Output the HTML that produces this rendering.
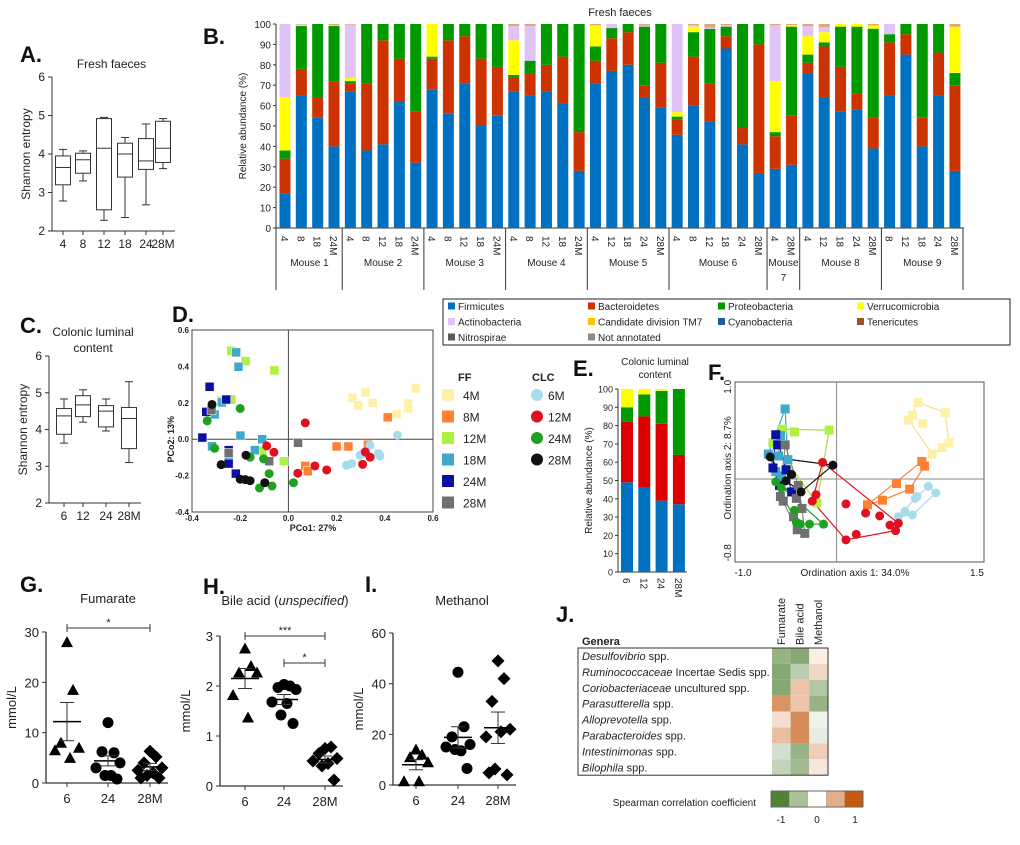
<!DOCTYPE html>
<html><head><meta charset="utf-8"><style>
body{margin:0;background:#fff}
svg{font-family:"Liberation Sans",sans-serif;display:block}
</style></head><body>
<svg id="s" width="1020" height="845" viewBox="0 0 1020 845" xmlns="http://www.w3.org/2000/svg">
<g font-weight="bold" font-size="22" fill="#111">
<text x="20" y="62">A.</text>
<text x="203" y="44">B.</text>
<text x="20" y="333">C.</text>
<text x="172" y="322">D.</text>
<text x="573" y="376">E.</text>
<text x="708" y="380">F.</text>
<text x="20" y="592">G.</text>
<text x="203" y="594">H.</text>
<text x="365" y="592">I.</text>
<text x="556" y="622">J.</text>
</g>
</svg>
<script>
// ---------- data ----------
const boxA_cats=["4","8","12","18","24","28M"];
const boxA_vals=[[2.78,3.2,3.65,3.95,4.12],[3.3,3.5,3.85,4.02,4.08],[2.28,2.55,4.15,4.92,4.95],[2.35,3.4,4.0,4.28,4.43],[2.68,3.6,3.82,4.4,4.78],[3.62,3.78,4.15,4.85,4.92]];
const boxC_cats=["6","12","24","28M"];
const boxC_vals=[[3.63,3.87,4.37,4.57,4.83],[4.2,4.35,4.67,4.92,5.08],[3.96,4.07,4.5,4.65,4.83],[3.1,3.48,4.3,4.6,5.3]];
const b_mice=["Mouse 1","Mouse 2","Mouse 3","Mouse 4","Mouse 5","Mouse 6","Mouse 7","Mouse 8","Mouse 9"];
const b_samples=[["4","8","18","24M"],["4","8","12","18","24M"],["4","8","12","18","24M"],["4","8","12","18","24M"],["4","12","18","24","28M"],["4","8","12","18","24","28M"],["4","28M"],["4","12","18","24","28M"],["8","12","18","24","28M"]];
const b_firm=[17,65,54,40,67,38,41,62,32,68,56,71,50,55,67,65,67,61,28,71,77,80,64,59,45.7,60,52,88,41,27,29,31,76,64,57,58,39,65,85,40,65,28];
const b_bact=[17,13,10,32,4,33,51,21,25,15,36,23,33,24,7,11,13,23,19,11,16,16,6,22,7.3,24,19,6,8,63,16,24,5,25,22,8,15,26,10,14,21,42];
const b_prot=[4,21,36,27,1,29,8,17,43,1,8,6,17,21,1,6,20,16,53,7,5,4,28.7,19,1.6,12,26.6,4.7,51,10,2,43.7,4,2,19.7,32.7,43.7,4,5,46,14,6];
const b_verr=[26,0.5,0,0,1.5,0,0,0,0,16,0,0,0,0,17,0,0,0,0,10,0,0,0,0,2.2,2.7,0,0,0,0,25,0.8,9,5,1.3,1.3,1.6,0,0,0,0,22.7];
const b_acti=[36,0.3,0,0.5,26.2,0,0,0,0,0,0,0,0,0,7,17,0,0,0,0.5,2,0,0.5,0,43.2,0.8,0.5,0.8,0,0,27.5,0,5,2.5,0,0,0,5,0,0,0,0];
const e_cats=["6","12","24","28M"];
const e_firm=[49,46,39,37], e_bact=[33,39,42,27], e_prot=[8,12,18,36], e_verr=[10,3,1,0];
const d_groups=["FF 4M","FF 8M","FF 12M","FF 18M","FF 24M","FF 28M","CLC 6M","CLC 12M","CLC 24M","CLC 28M"];
const d_x=[[0.266,0.32,0.29,0.35,0.45,0.497,0.498,0.528],[0.412,0.2,0.249,0.33,0.07,0.08],[-0.237,-0.178,-0.058,-0.279,-0.237,-0.109,-0.019],[-0.217,-0.207,-0.276,-0.306,-0.199,-0.109,-0.139,-0.317,-0.248],[-0.327,-0.258,-0.341,-0.357,-0.248,-0.248,-0.218],[-0.319,-0.248,-0.08,0.04],[0.452,0.241,0.262,0.297,0.308,0.338,0.373,0.38],[0.07,-0.09,-0.06,0.11,0.039,0.159,0.319,0.339,0.308],[-0.2,-0.337,-0.306,-0.159,-0.103,-0.08,-0.12,-0.068,0.021],[-0.317,-0.176,-0.279,-0.2,-0.179,-0.159,-0.098]];
const d_y=[[0.228,0.257,0.187,0.2,0.138,0.196,0.169,0.279],[0.12,-0.04,-0.04,-0.03,-0.147,-0.176],[0.486,0.429,0.378,0.211,0.218,-0.064,-0.121],[0.477,0.398,0.202,0.136,0.02,0,-0.06,-0.039,-0.112],[0.288,0.218,0.15,0.009,-0.06,-0.134,-0.189],[0.16,-0.075,-0.121,-0.02],[0.022,-0.143,-0.134,-0.088,-0.079,-0.033,-0.079,-0.092],[0.09,-0.037,-0.072,-0.147,-0.187,-0.169,-0.07,-0.099,-0.138],[0.169,0.101,-0.05,-0.099,-0.108,-0.189,-0.268,-0.257,-0.239],[0.191,-0.088,-0.14,-0.22,-0.222,-0.228,-0.239]];
const f_x=[[0.87,1.16,1.2,1.13,1.02,0.81,0.77,0.92],[0.91,0.94,0.78,0.49,0.33,0.64],[-0.58,-0.45,-0.08,-0.21,-0.68],[-0.55,-0.6,-0.73,-0.62,-0.52,-0.65,-0.59],[-0.65,-0.63,-0.68,-0.61,-0.48,-0.54],[-0.55,-0.41,-0.43,-0.6,-0.57,-0.46,-0.42,-0.34,-0.37],[0.98,1.06,0.81,0.73,0.66,0.86,0.84],[-0.15,-0.22,-0.26,0.1,0.21,0.63,0.66,0.57,0.46,0.31,0.1],[-0.65,-0.59,-0.45,-0.43,-0.29,-0.14,-0.39],[-0.71,-0.04,-0.38,-0.48,-0.54]];
const f_y=[[0.83,0.72,0.39,0.34,0.27,0.69,0.64,0.6],[0.19,0.14,-0.11,-0.23,-0.28,-0.05],[0.54,0.51,0.53,-0.26,0.39],[0.76,0.47,0.27,0.25,0.21,0.08,0.03],[0.48,0.37,0.12,-0.07,-0.14,0.1],[0.37,-0.07,-0.21,-0.19,-0.24,-0.41,-0.55,-0.59,-0.32],[-0.08,-0.15,-0.39,-0.35,-0.41,-0.19,-0.21],[0.18,-0.17,-0.24,-0.66,-0.6,-0.56,-0.48,-0.5,-0.4,-0.37,-0.27],[-0.03,-0.1,-0.34,-0.47,-0.49,-0.49,-0.49],[0.24,0.15,-0.14,0.05,-0.02]];
const sc_cats=["6","24","28M"];
const g_vals=[[28,18.5,8,7,6.5,5],[12,6,6.2,4,3,1.5,1.5,0.8],[6.3,5.2,4,3,2.5,2,1.5,1,1]];
const g_mean=[12.2,4.4,3.2], g_sem=[3.8,1.0,0.7];
const h_vals=[[2.75,2.4,2.27,2.27,1.82,1.37],[2.03,2.0,1.97,1.93,1.68,1.65,1.42,1.25],[0.75,0.78,0.65,0.55,0.5,0.45,0.4,0.12]];
const h_mean=[2.15,1.73,0.53], h_sem=[0.2,0.1,0.07];
const i_vals=[[14,12,11,9,1.5,1.5],[44.5,23,19,16,15,13.5,14,6.5],[49,42,33,22,19,21,6.3,4,4.8]];
const i_mean=[8,18.8,22.6], i_sem=[2,4.2,6.2];
const j_genera=[["Desulfovibrio"," spp."],["Ruminococcaceae"," Incertae Sedis spp."],["Coriobacteriaceae"," uncultured spp."],["Parasutterella"," spp."],["Alloprevotella"," spp."],["Parabacteroides"," spp."],["Intestinimonas"," spp."],["Bilophila"," spp."]];
const j_cols=["Fumarate","Bile acid","Methanol"];
const j_vals=[[-0.6,-0.7,0.1],[-0.7,-0.4,0.25],[-0.7,0.35,-0.45],[0.65,0.35,-0.6],[0.2,0.7,-0.1],[0.4,0.7,-0.15],[-0.25,-0.6,0.3],[-0.35,-0.55,0.15]];
const j_scale=[-1,-0.5,0,0.5,1];

// ---------- helpers ----------
const S=document.getElementById('s'),NS='http://www.w3.org/2000/svg';
function mk(t,a,p,txt){const e=document.createElementNS(NS,t);for(const k in a)e.setAttribute(k,a[k]);if(txt!==undefined)e.textContent=txt;(p||S).appendChild(e);return e;}
function grp(name){const g=mk('g',{});return g;}
function txt(p,x,y,s,o,name){const e=mk('text',Object.assign({x:x,y:y,'font-size':11,fill:'#222'},o||{}),p,s);return e;}
function ln(p,x1,y1,x2,y2,st,w){return mk('line',{x1:x1,y1:y1,x2:x2,y2:y2,stroke:st||'#333','stroke-width':w||1},p);}

// ---------- box plots ----------
function boxPanel(name,cats,vals,ax,ytop,ybot,xs,title,titleY){
  const g=grp(name);const y=v=>ybot-(v-2)*(ybot-ytop)/4;
  ln(g,ax,y(6),ax,y(2));ln(g,ax,y(2),xs[xs.length-1]+12,y(2));
  [2,3,4,5,6].forEach(t=>{ln(g,ax-4,y(t),ax,y(t));txt(g,ax-7,y(t)+4,String(t),{'text-anchor':'end','font-size':12},'y-tick');});
  title.forEach((t,i)=>txt(g,(ax+xs[xs.length-1])/2+4,titleY+i*16,t,{'text-anchor':'middle','font-size':12},'panel-title'));
  txt(g,0,0,'Shannon entropy',{transform:`translate(${ax-22},${(ytop+ybot)/2}) rotate(-90)`,'text-anchor':'middle','font-size':12},'y-axis-title');
  cats.forEach((c,i)=>{const v=vals[i],x=xs[i];const b=mk('g',{},g);
    ln(b,x,y(v[0]),x,y(v[1]));ln(b,x,y(v[3]),x,y(v[4]));ln(b,x-4,y(v[0]),x+4,y(v[0]));ln(b,x-4,y(v[4]),x+4,y(v[4]));
    mk('rect',{x:x-7.5,y:y(v[3]),width:15,height:y(v[1])-y(v[3]),fill:'none',stroke:'#333'},b);ln(b,x-7.5,y(v[2]),x+7.5,y(v[2]));
    ln(g,x,y(2),x,y(2)+4);txt(g,x,y(2)+17,c,{'text-anchor':'middle','font-size':12},'x-tick');});
}
boxPanel('panel-a-boxplot',boxA_cats,boxA_vals,52,77,231,[63,83,104,125,146,163],['Fresh faeces'],68);
boxPanel('panel-c-boxplot',boxC_cats,boxC_vals,49,356,503,[64,83,106,129],['Colonic luminal','content'],336);

// ---------- stacked bars ----------
const cols={F:'#0070c0',B:'#cc3300',P:'#009900',V:'#ffff00',A:'#e0c4f8',O:'#e0a878'};
(function(){
  const g=grp('panel-b-stacked-bars');const ax=276,y0=228,y100=24,y=v=>y0-v*(y0-y100)/100;
  txt(g,620,16,'Fresh faeces',{'text-anchor':'middle','font-size':11},'panel-title');
  ln(g,ax,y100,ax,y0);ln(g,ax,y0,964,y0);
  for(let t=0;t<=100;t+=10){ln(g,ax-3,y(t),ax,y(t));txt(g,ax-5,y(t)+4,String(t),{'text-anchor':'end','font-size':10},'y-tick');}
  txt(g,0,0,'Relative abundance (%)',{transform:`translate(${ax-30},${(y0+y100)/2}) rotate(-90)`,'text-anchor':'middle','font-size':10},'y-axis-title');
  let i=0;const bx=k=>285+16.34*k;
  b_samples.forEach((arr,m)=>{const start=i;
    arr.forEach(s=>{const x=bx(i);let acc=0;
      [[b_firm,'F'],[b_bact,'B'],[b_prot,'P'],[b_verr,'V'],[b_acti,'A']].forEach(([a,k])=>{const v=a[i];if(v>0){const r=mk('rect',{x:x-5.5,y:y(acc+v),width:11,height:y(acc)-y(acc+v),fill:cols[k]},g);}acc+=v;});
      if(acc<100){mk('rect',{x:x-5.5,y:y(100),width:11,height:y(acc)-y(100),fill:cols.O},g);}
      txt(g,0,0,s,{transform:`translate(${x-4},${y0+8}) rotate(90)`,'font-size':10},'x-tick');i++;});
    const xl=m===0?ax:(bx(start)+bx(start-1))/2;ln(g,xl,y0,xl,290);
    const cx=(bx(start)+bx(i-1))/2;
    if(b_mice[m]==='Mouse 7'){txt(g,cx,266,'Mouse',{'text-anchor':'middle','font-size':10},'group-label');txt(g,cx,281,'7',{'text-anchor':'middle','font-size':10},'group-label');}
    else txt(g,cx,266,b_mice[m],{'text-anchor':'middle','font-size':10},'group-label');
  });
  ln(g,963,y0,963,290);
})();

// ---------- legend ----------
(function(){const g=grp('phylum-legend');mk('rect',{x:443,y:299,width:567,height:46,fill:'#fff',stroke:'#222'},g);
  const items=[['Firmicutes','#0070c0'],['Bacteroidetes','#cc3300'],['Proteobacteria','#009900'],['Verrucomicrobia','#ffff00'],['Actinobacteria','#e0c4f8'],['Candidate division TM7','#ffc000'],['Cyanobacteria','#1f5c99'],['Tenericutes','#a0522d'],['Nitrospirae','#595959'],['Not annotated','#8c8c8c']];
  const layout=[[0,0],[0,1],[0,2],[0,3],[1,0],[1,1],[1,2],[1,3],[2,0],[2,1]];
  const xs=[448,588,718,857];
  items.forEach((it,k)=>{const [r,c]=layout[k];const x=xs[c],yy=306+r*15.5;
    const e=mk('g',{},g);
    mk('rect',{x:x,y:yy-3.5,width:7,height:7,fill:it[1]},e);txt(e,x+10,yy+4,it[0],{'font-size':10},'legend-label');});
})();

// ---------- PCoA D ----------
const dCols=['#fff0a8','#ff8030','#b0f040','#40a8c8','#0a10a0','#707070','#a8dcec','#e01020','#20a020','#111'];
(function(){const g=grp('panel-d-pcoa');const X=v=>192+(v+0.4)*241,Y=v=>330+(0.6-v)*182;
  mk('rect',{x:192,y:330,width:241,height:182,fill:'none',stroke:'#444'},g);ln(g,X(0),330,X(0),512,'#444');ln(g,192,Y(0),433,Y(0),'#444');
  [-0.4,-0.2,0,0.2,0.4,0.6].forEach(t=>txt(g,X(t),521,t.toFixed(1),{'text-anchor':'middle','font-size':8,'font-weight':'bold'},'x-tick'));
  [-0.4,-0.2,0,0.2,0.4,0.6].forEach(t=>txt(g,189,Y(t)+3,t.toFixed(1),{'text-anchor':'end','font-size':8,'font-weight':'bold'},'y-tick'));
  txt(g,313,531,'PCo1: 27%',{'text-anchor':'middle','font-size':9,'font-weight':'bold'},'x-axis-title');
  txt(g,0,0,'PCo2: 13%',{transform:`translate(174,${Y(0)}) rotate(-90)`,'text-anchor':'middle','font-size':9,'font-weight':'bold'},'y-axis-title');
  d_groups.forEach((gn,k)=>{d_x[k].forEach((v,j)=>{const x=X(v),y=Y(d_y[k][j]);let e;
    if(k<6)e=mk('rect',{x:x-4.5,y:y-4.5,width:9,height:9,fill:dCols[k],stroke:'#fff','stroke-width':0.5},g);else e=mk('circle',{cx:x,cy:y,r:4.5,fill:dCols[k]},g);
    });});
  const L=grp('panel-d-legend');txt(L,458,381,'FF',{'font-weight':'bold','font-size':11},'legend-title');txt(L,532,381,'CLC',{'font-weight':'bold','font-size':11},'legend-title');
  ['4M','8M','12M','18M','24M','28M'].forEach((s,k)=>{const yy=395+k*21.5;mk('rect',{x:442,y:yy-6,width:12,height:12,fill:dCols[k]},L);txt(L,463,yy+5,s,{'font-size':12},'legend-label');});
  ['6M','12M','24M','28M'].forEach((s,k)=>{const yy=395+k*21.5;mk('circle',{cx:537,cy:yy,r:6,fill:dCols[6+k]},L);txt(L,548,yy+5,s,{'font-size':12},'legend-label');});
})();

// ---------- E ----------
(function(){const g=grp('panel-e-stacked-bars');const ax=618,y0=572,y=v=>y0-v*1.83;
  txt(g,655,365,'Colonic luminal',{'text-anchor':'middle','font-size':10},'panel-title');txt(g,655,378,'content',{'text-anchor':'middle','font-size':10},'panel-title');
  ln(g,ax,y(100),ax,y0);ln(g,ax,y0,687,y0);
  for(let t=0;t<=100;t+=10){ln(g,ax-3,y(t),ax,y(t));txt(g,ax-5,y(t)+3.5,String(t),{'text-anchor':'end','font-size':9},'y-tick');}
  txt(g,0,0,'Relative abundance (%)',{transform:`translate(${ax-26},${y(50)}) rotate(-90)`,'text-anchor':'middle','font-size':10},'y-axis-title');
  e_cats.forEach((c,i)=>{const x=627+17.3*i;let acc=0;
    [[e_firm,'#0070c0'],[e_bact,'#dd0000'],[e_prot,'#009900'],[e_verr,'#ffff00']].forEach(([a,col])=>{const v=a[i];if(v>0){const r=mk('rect',{x:x-6,y:y(acc+v),width:12,height:y(acc)-y(acc+v),fill:col},g);}acc+=v;});
    txt(g,0,0,c,{transform:`translate(${x-4},${y0+6}) rotate(90)`,'font-size':10},'x-tick');});
})();

// ---------- F ----------
function hull(pts){pts=pts.slice().sort((a,b)=>a[0]-b[0]||a[1]-b[1]);const cr=(o,a,b)=>(a[0]-o[0])*(b[1]-o[1])-(a[1]-o[1])*(b[0]-o[0]);const lo=[],up=[];
  for(const p of pts){while(lo.length>=2&&cr(lo[lo.length-2],lo[lo.length-1],p)<=0)lo.pop();lo.push(p);}
  for(const p of pts.slice().reverse()){while(up.length>=2&&cr(up[up.length-2],up[up.length-1],p)<=0)up.pop();up.push(p);}
  return lo.slice(0,-1).concat(up.slice(0,-1));}
(function(){const g=grp('panel-f-ordination');const X=v=>836.6+v*93.6,Y=v=>479-v*92.2;
  mk('rect',{x:735,y:382,width:249,height:180,fill:'none',stroke:'#555'},g);ln(g,X(0),382,X(0),562,'#888');ln(g,735,Y(0),984,Y(0),'#888');
  txt(g,743,576,'-1.0',{'text-anchor':'middle','font-size':10},'x-tick');txt(g,977,576,'1.5',{'text-anchor':'middle','font-size':10},'x-tick');
  txt(g,855,576,'Ordination axis 1: 34.0%',{'text-anchor':'middle','font-size':10},'x-axis-title');
  txt(g,0,0,'1.0',{transform:`translate(731,${Y(1)}) rotate(-90)`,'text-anchor':'middle','font-size':10},'y-tick');
  txt(g,0,0,'-0.8',{transform:`translate(731,${Y(-0.8)}) rotate(-90)`,'text-anchor':'middle','font-size':10},'y-tick');
  txt(g,0,0,'Ordination axis 2: 8.7%',{transform:`translate(731,${Y(0.12)}) rotate(-90)`,'text-anchor':'middle','font-size':10},'y-axis-title');
  const lineCols=['#f5e08a','#ff8030','#a8e040','#40a8c8','#2020c0','#888','#a8dcec','#e01020','#20a020','#111'];
  d_groups.forEach((gn,k)=>{const pts=f_x[k].map((v,j)=>[X(v),Y(f_y[k][j])]);const h=hull(pts);
    mk('polygon',{points:h.map(p=>p.join(',')).join(' '),fill:'none',stroke:lineCols[k],'stroke-width':1.2},g);});
  d_groups.forEach((gn,k)=>{f_x[k].forEach((v,j)=>{const x=X(v),y=Y(f_y[k][j]);let e;
    if(k<6)e=mk('rect',{x:x-4.5,y:y-4.5,width:9,height:9,fill:dCols[k]},g);else e=mk('circle',{cx:x,cy:y,r:4.5,fill:dCols[k]},g);
    });});
})();

// ---------- scatter G H I ----------
function marker(p,shape,x,y){let e;if(shape===0)e=mk('polygon',{points:`${x},${y-6} ${x-6},${y+5} ${x+6},${y+5}`,fill:'#000'},p);
  else if(shape===1)e=mk('circle',{cx:x,cy:y,r:5.5,fill:'#000'},p);else e=mk('polygon',{points:`${x},${y-6.5} ${x+6.5},${y} ${x},${y+6.5} ${x-6.5},${y}`,fill:'#000'},p);
  }
function scatter(name,vals,mean,sem,ax,y0,ytop,ymax,ticks,xs,title,tx,ty,sig){const g=grp(name);const y=v=>y0-v*(y0-ytop)/ymax;
  ln(g,ax,ytop,ax,y0,'#333',1.3);ln(g,ax,y0,xs[2]+18,y0,'#333',1.3);
  ticks.forEach(t=>{ln(g,ax-4,y(t),ax,y(t));txt(g,ax-7,y(t)+5,String(t),{'text-anchor':'end','font-size':13},'y-tick');});
  txt(g,0,0,'mmol/L',{transform:`translate(${ax-30},${(y0+ytop)/2}) rotate(-90)`,'text-anchor':'middle','font-size':13},'y-axis-title');
  sc_cats.forEach((c,i)=>{ln(g,xs[i],y0,xs[i],y0+4);txt(g,xs[i],y0+20,c,{'text-anchor':'middle','font-size':13},'x-tick');
    const pat=[0,1,-1,2,-2,0.5,-0.5,1.5,-1.5];vals[i].forEach((v,j)=>marker(g,i,xs[i]+pat[j%pat.length]*6,y(v)));
    ln(g,xs[i]-14,y(mean[i]),xs[i]+14,y(mean[i]),'#000',1.5);ln(g,xs[i],y(mean[i]-sem[i]),xs[i],y(mean[i]+sem[i]));
    ln(g,xs[i]-7,y(mean[i]-sem[i]),xs[i]+7,y(mean[i]-sem[i]));ln(g,xs[i]-7,y(mean[i]+sem[i]),xs[i]+7,y(mean[i]+sem[i]));});
  title.forEach(t=>{const e=txt(g,tx,ty,'',{'text-anchor':'middle','font-size':13},'panel-title');t.forEach(s=>{mk('tspan',s[1]?{'font-style':'italic'}:{},e,s[0]);});});
  (sig||[]).forEach(s=>{const yy=s[3];ln(g,xs[s[0]],yy,xs[s[1]],yy);ln(g,xs[s[0]],yy-4,xs[s[0]],yy+4);ln(g,xs[s[1]],yy-4,xs[s[1]],yy+4);
    txt(g,(xs[s[0]]+xs[s[1]])/2,yy-2,s[2],{'text-anchor':'middle','font-size':11},'significance');});
}
scatter('panel-g-fumarate',g_vals,g_mean,g_sem,46,783,632,30,[0,10,20,30],[67,108,150],[[['Fumarate']]],108,603,[[0,2,'*',628]]);
scatter('panel-h-bile-acid',h_vals,h_mean,h_sem,220,786,636,3,[0,1,2,3],[245,284,325],[[['Bile acid ('],['unspecified',1],[')']]],285,605,[[0,2,'***',636],[1,2,'*',663]]);
scatter('panel-i-methanol',i_vals,i_mean,i_sem,393,785,633,60,[0,20,40,60],[416,458,498],[[['Methanol']]],462,605);

// ---------- heatmap J ----------
function hcol(v){const w=[255,255,255],c=v<0?[84,130,53]:[197,90,17],t=Math.min(1,Math.abs(v));return `rgb(${w.map((a,i)=>Math.round(a+(c[i]-a)*t)).join(',')})`;}
(function(){const g=grp('panel-j-heatmap');const x0=772,cw=18.6,y0=648,rh=15.9;
  txt(g,582,645,'Genera',{'font-weight':'bold','font-size':11},'table-header');
  j_cols.forEach((c,k)=>txt(g,0,0,c,{transform:`translate(${x0+cw*k+13},645) rotate(-90)`,'font-size':11},'column-label'));
  j_genera.forEach((r,i)=>{const e=txt(g,582,y0+rh*i+12,'',{'font-size':11},'genus-label');mk('tspan',{'font-style':'italic'},e,r[0]);mk('tspan',{},e,r[1]);
    j_vals[i].forEach((v,k)=>{const c=mk('rect',{x:x0+cw*k,y:y0+rh*i,width:cw,height:rh,fill:hcol(v)},g);});});
  mk('rect',{x:578,y:y0,width:250,height:rh*8,fill:'none',stroke:'#333'},g);
  txt(g,756,806,'Spearman correlation coefficient',{'text-anchor':'end','font-size':10},'colorbar-title');
  j_scale.forEach((v,k)=>mk('rect',{x:771+k*18.4,y:791,width:18.4,height:16,fill:hcol(v),stroke:'#999','stroke-width':0.3},g));
  mk('rect',{x:771,y:791,width:92,height:16,fill:'none',stroke:'#666'},g);
  [[-1,781],[0,817],[1,855]].forEach(a=>txt(g,a[1],823,String(a[0]),{'text-anchor':'middle','font-size':10},'colorbar-tick'));
})();
</script>
</body></html>
